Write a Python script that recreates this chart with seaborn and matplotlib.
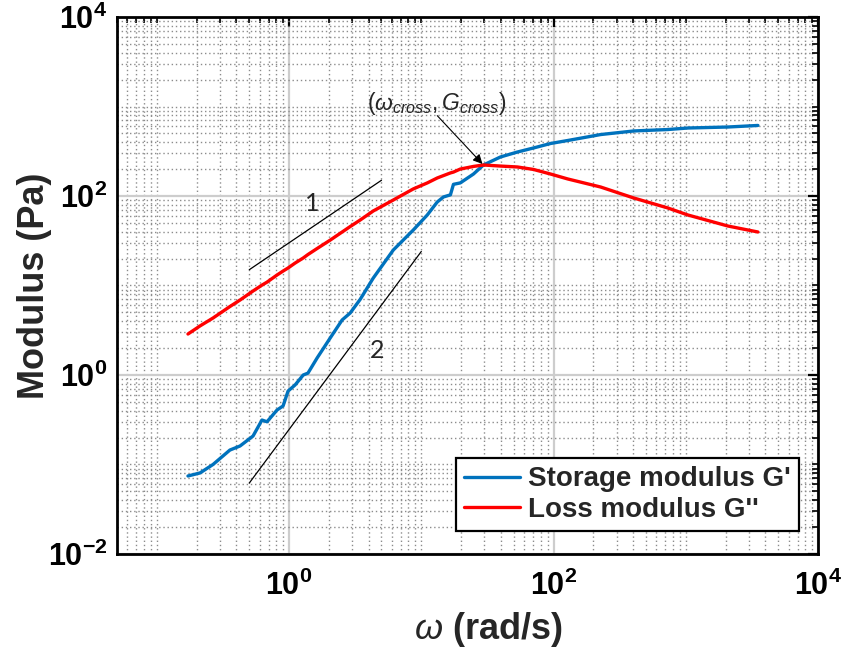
import numpy as np
import pandas as pd
import matplotlib
matplotlib.use("Agg")
import matplotlib.pyplot as plt
import seaborn as sns
from matplotlib.ticker import FixedLocator, FuncFormatter, NullFormatter

# ---------------- data ----------------
omega = [0.172, 0.212, 0.266, 0.357, 0.426, 0.534, 0.624, 0.681, 0.811, 0.901,
         0.983, 1.11, 1.28, 1.39, 1.63, 2.05, 2.52, 2.90, 3.45, 4.33,
         6.14, 8.70, 11.1, 13.2, 14.7, 16.6, 17.5, 19.7, 24.8, 29.5,
         39.7, 53.3, 70.5, 94.9, 128, 227, 404, 731, 1035, 2080, 3510]
storage = [0.0744, 0.0804, 0.100, 0.145, 0.161, 0.208, 0.314, 0.300, 0.406, 0.451,
           0.662, 0.773, 1.00, 1.05, 1.55, 2.6, 4.12, 4.93, 7.0, 12.1,
           24.9, 41.7, 61.4, 85.7, 97.5, 103, 135, 140, 176, 222,
           273, 310, 344, 386, 417, 486, 533, 553, 575, 590, 614]
loss = [2.87, 3.53, 4.33, 5.82, 6.88, 8.68, 10.1, 10.9, 13.1, 14.5,
        15.7, 17.8, 20.3, 22.2, 25.9, 32.2, 39.6, 45.6, 53.9, 68.0,
        90.2, 120, 140, 159, 169, 181, 185, 200, 214, 222,
        216, 211, 198, 176, 155, 126, 95, 73.5, 61.4, 46.2, 39.6]
series_names = ["Storage modulus G'", "Loss modulus G''"]
series_colors = ["#0072BD", "#FF0000"]

slope1_x = [0.5, 5.0]
slope1_y = [15.0, 150.0]
slope2_x = [0.5, 10.0]
slope2_y = [0.062, 24.0]
slope_labels = ["1", "2"]
slope_label_x = [1.49, 4.64]
slope_label_y = [83.5, 1.90]

cross_text = r"$(\omega_{cross}, G_{cross})$"
cross_text_xy = (13.0, 1094)
arrow_tail = (13.2, 790)
arrow_head = (29.0, 228)

x_major = [1e0, 1e2, 1e4]
y_major = [1e-2, 1e0, 1e2, 1e4]

# ---------------- style ----------------
sns.set_style("white")
plt.rcParams["font.family"] = ["Liberation Sans", "DejaVu Sans"]
plt.rcParams["mathtext.fontset"] = "custom"
plt.rcParams["mathtext.rm"] = "Liberation Sans"
plt.rcParams["mathtext.bf"] = "Liberation Sans:bold"
plt.rcParams["mathtext.it"] = "Liberation Sans:italic"

df = pd.DataFrame({
    "omega": omega * 2,
    "G": storage + loss,
    "series": [series_names[0]] * len(omega) + [series_names[1]] * len(omega),
})

fig = plt.figure(figsize=(8.43, 6.49), dpi=100)
ax = fig.add_axes([0.1388, 0.1464, 0.8316, 0.8274])

sns.lineplot(data=df, x="omega", y="G", hue="series",
             palette=dict(zip(series_names, series_colors)),
             estimator=None, sort=False, lw=2.4, ax=ax, zorder=3)

ax.plot(slope1_x, slope1_y, color="black", lw=0.9, zorder=3)
ax.plot(slope2_x, slope2_y, color="black", lw=0.9, zorder=3)
for t, tx, ty in zip(slope_labels, slope_label_x, slope_label_y):
    ax.text(tx, ty, t, fontsize=18, family=["Lato", "DejaVu Sans"],
            ha="center", va="center")

ax.text(cross_text_xy[0], cross_text_xy[1], cross_text, fontsize=16.5,
        ha="center", va="center")
ax.annotate("", xy=arrow_head, xytext=arrow_tail,
            arrowprops=dict(arrowstyle="-|>", color="black", lw=0.8,
                            mutation_scale=14, shrinkA=0, shrinkB=0))

ax.set_xscale("log")
ax.set_yscale("log")
ax.set_xlim(0.05, 1e4)
ax.set_ylim(1e-2, 1e4)

minor_x = [m * 10.0 ** e for e in range(-2, 4) for m in range(1, 10)
           if m * 10.0 ** e not in x_major]
minor_y = [m * 10.0 ** e for e in range(-2, 4) for m in range(1, 10)
           if m * 10.0 ** e not in y_major]
ax.xaxis.set_major_locator(FixedLocator(x_major))
ax.yaxis.set_major_locator(FixedLocator(y_major))
ax.xaxis.set_minor_locator(FixedLocator(minor_x))
ax.yaxis.set_minor_locator(FixedLocator(minor_y))
fmt = FuncFormatter(lambda v, p: r"$\mathbf{10^{%d}}$" % int(round(np.log10(v))))
ax.xaxis.set_major_formatter(fmt)
ax.yaxis.set_major_formatter(fmt)
ax.xaxis.set_minor_formatter(NullFormatter())
ax.yaxis.set_minor_formatter(NullFormatter())

ax.set_axisbelow(True)
ax.grid(which="major", color="#cdcdcd", lw=1.6, ls="-")
ax.grid(which="minor", color="#8c8c8c", lw=1.0, ls=(0, (1, 2.0)))

ax.tick_params(which="both", direction="in", top=True, right=True, colors="black")
ax.tick_params(which="major", length=7, width=1.6, labelsize=22)
ax.tick_params(axis="x", which="major", pad=12)
ax.tick_params(axis="y", which="major", pad=7)
ax.tick_params(which="minor", length=4, width=1.2)
for s in ax.spines.values():
    s.set_linewidth(2.0)
    s.set_color("black")

ax.set_xlabel(r"$\omega$ (rad/s)", fontsize=26, fontweight="bold")
ax.set_ylabel("Modulus (Pa)", fontsize=26, fontweight="bold")
ax.xaxis.set_label_coords(0.53, -0.105)
ax.yaxis.set_label_coords(-0.093, 0.5)

handles, labels = ax.get_legend_handles_labels()
leg = ax.legend(handles, labels, loc="lower right", bbox_to_anchor=(0.973, 0.043),
                borderaxespad=0, prop=dict(weight="bold", size=20),
                frameon=True, fancybox=False, edgecolor="black",
                handlelength=2.0, handletextpad=0.3, borderpad=0.3,
                labelspacing=0.15, framealpha=1)
leg.get_frame().set_linewidth(1.6)
for line in leg.get_lines():
    line.set_linewidth(2.4)

fig.savefig("out.png", dpi=100)
